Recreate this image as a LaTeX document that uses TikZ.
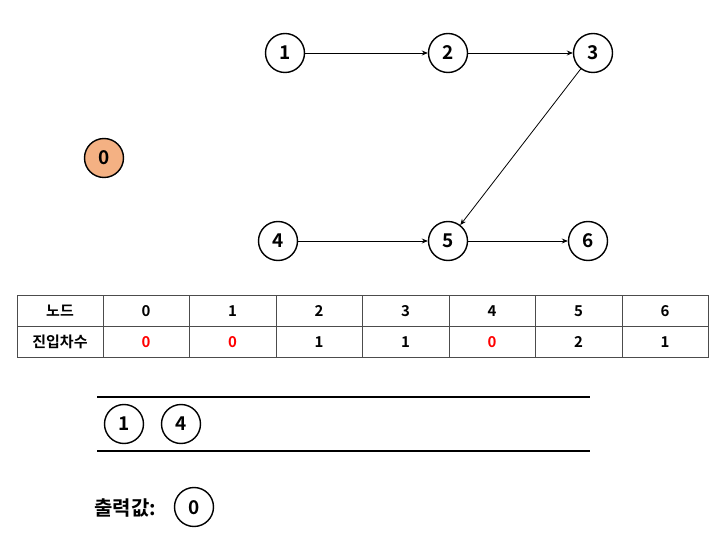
\documentclass[tikz,border=0pt]{standalone}
\usepackage{fontspec}
\setmainfont{Noto Sans CJK KR}[BoldFont={* Bold}]
\usetikzlibrary{arrows.meta}
\definecolor{nodeorange}{HTML}{F4B183}
\definecolor{zerored}{HTML}{FF0000}
\tikzset{
  vert/.style={circle,draw=black,line width=1.4pt,minimum size=39pt,inner sep=0pt,text height=14pt,text depth=0pt,font=\fontsize{19}{21}\selectfont\bfseries},
  edge/.style={draw=black,line width=0.8pt,-{Stealth[length=6pt,width=5pt]}},
  cell/.style={text height=11pt,text depth=0pt,font=\fontsize{15}{17}\selectfont\bfseries},
  redcell/.style={cell,text=zerored},
  qline/.style={draw=black,line width=1.2pt},
  tline/.style={draw=black!70,line width=1pt}
}
\begin{document}
\begin{tikzpicture}[x=1pt,y=-1pt]
\useasboundingbox (0,0) rectangle (726,545);
% graph
\node[vert] (n1) at (285,53) {1};
\node[vert] (n2) at (448,53) {2};
\node[vert] (n3) at (593,53) {3};
\node[vert,fill=nodeorange] (n0) at (104,158) {0};
\node[vert] (n4) at (278,241) {4};
\node[vert] (n5) at (448,241) {5};
\node[vert] (n6) at (588,241) {6};
\draw[edge] (n1) -- (n2);
\draw[edge] (n2) -- (n3);
\draw[edge] (n3) -- (n5);
\draw[edge] (n4) -- (n5);
\draw[edge] (n5) -- (n6);
% table
\draw[tline] (17,296) rectangle (708,358);
\draw[tline] (17,327) -- (708,327);
\foreach \x in {103,189,276,362,449,535,622}{\draw[tline] (\x,296) -- (\x,358);}
\node[cell] (h) at (60,311.5) {노드};
\node[cell] (r) at (60,342.5) {진입차수};
\node[cell] (c0) at (146,311.5) {0};
\node[cell] (c1) at (232.5,311.5) {1};
\node[cell] (c2) at (319,311.5) {2};
\node[cell] (c3) at (405.5,311.5) {3};
\node[cell] (c4) at (492,311.5) {4};
\node[cell] (c5) at (578.5,311.5) {5};
\node[cell] (c6) at (665,311.5) {6};
\node[redcell] (d0) at (146,342.5) {0};
\node[redcell] (d1) at (232.5,342.5) {0};
\node[cell] (d2) at (319,342.5) {1};
\node[cell] (d3) at (405.5,342.5) {1};
\node[redcell] (d4) at (492,342.5) {0};
\node[cell] (d5) at (578.5,342.5) {2};
\node[cell] (d6) at (665,342.5) {1};
% queue
\draw[qline] (97,397) -- (590,397);
\draw[qline] (97,451) -- (590,451);
\node[vert] (q1) at (124,424) {1};
\node[vert] (q4) at (181,424) {4};
% output
\node[font=\fontsize{20}{22}\selectfont\bfseries,anchor=west,inner sep=0pt] (lbl) at (94,508) {출력값:};
\node[vert] (o0) at (194,507) {0};
\end{tikzpicture}
\end{document}
